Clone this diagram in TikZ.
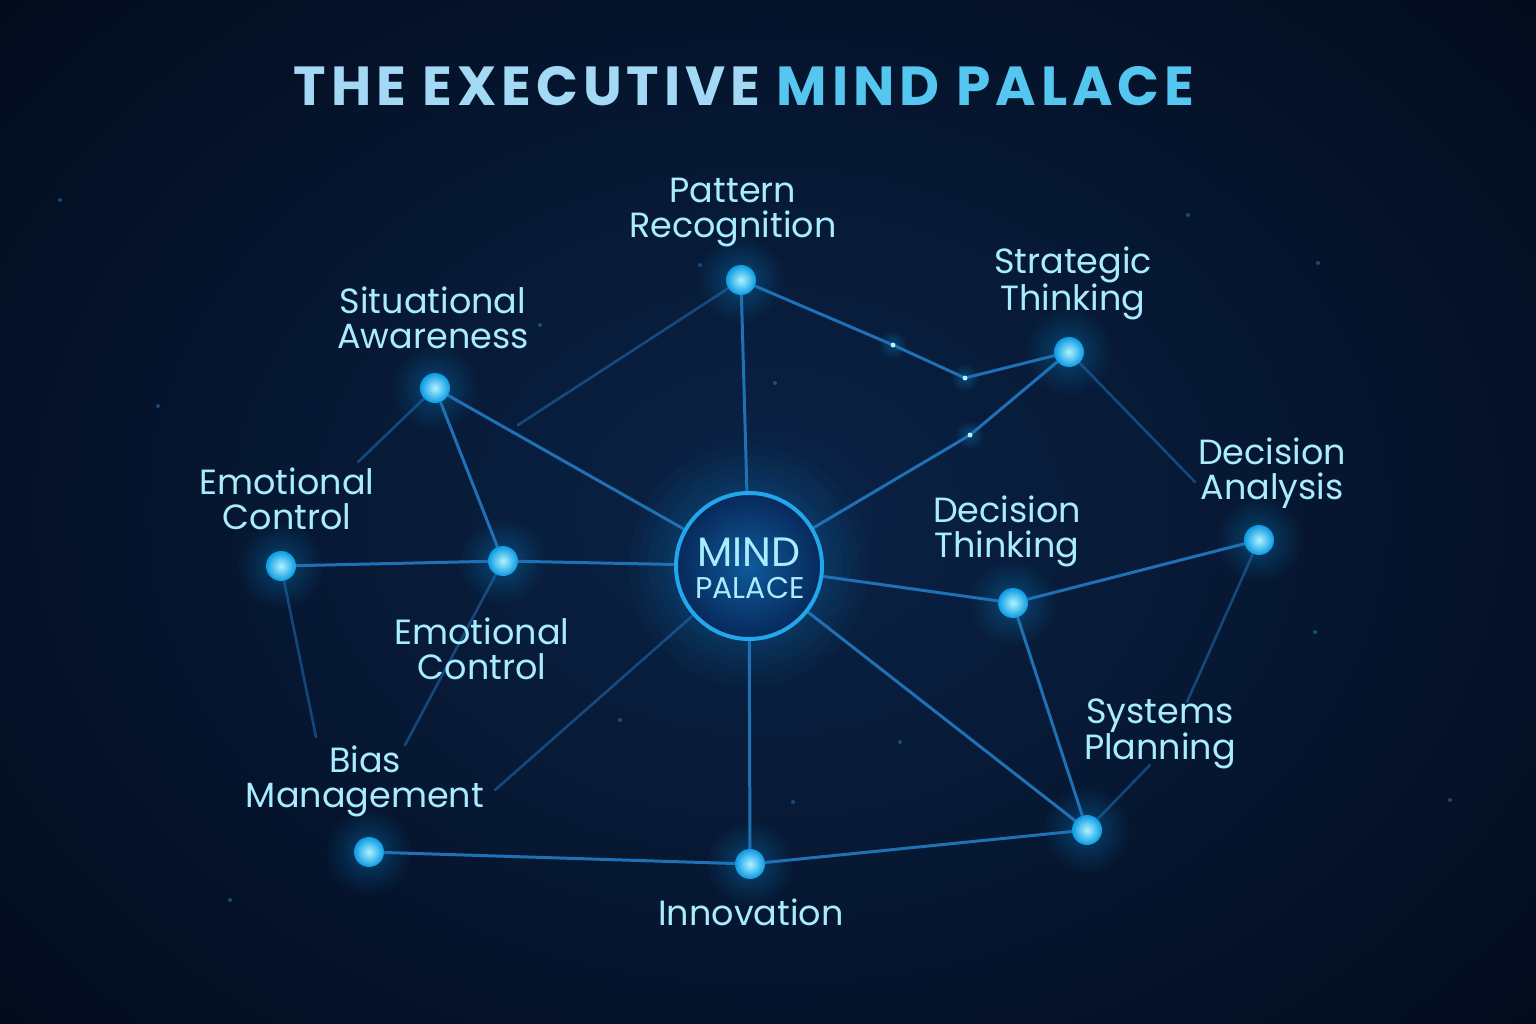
\documentclass[tikz,border=0pt]{standalone}
\usepackage{fontspec}
\setmainfont{Poppins}
\definecolor{bgA}{HTML}{0A2347}
\definecolor{bgB}{HTML}{020A1A}
\definecolor{linec}{HTML}{1F70B5}
\definecolor{dotout}{HTML}{0A9BE4}
\definecolor{dotin}{HTML}{B0F2FF}
\definecolor{labelc}{HTML}{A9ECFF}
\definecolor{titleA}{HTML}{A3D9F4}
\definecolor{titleB}{HTML}{55C6F0}
\definecolor{ringc}{HTML}{22A6EC}
\definecolor{coreA}{HTML}{0F5A9C}
\definecolor{coreB}{HTML}{07295A}
\pgfdeclarelayer{back}\pgfdeclarelayer{glow}\pgfdeclarelayer{lines}
\pgfsetlayers{back,glow,lines,main}
\newcommand\glowat[2]{%
  \begin{pgfonlayer}{glow}
  \foreach \r in {2.8,2.5,2.2,1.95,1.7,1.5,1.3,1.15}{\fill[dotout,opacity=0.035] (#1) circle ({\r*#2});}
  \end{pgfonlayer}}
\begin{document}
\begin{tikzpicture}[x=1pt,y=-1pt,
  conn/.style={draw=linec,line width=3pt,line cap=round},
  faint/.style={draw=linec,line width=2.6pt,opacity=0.55,line cap=round},
  dot/.style={circle,inner sep=0pt,minimum size=30pt,inner color=dotin,outer color=dotout},
  jdot/.style={circle,inner sep=0pt,minimum size=5pt,fill=dotin},
  lbl/.style={text=labelc,font=\fontsize{35}{35}\selectfont,align=center},
  star/.style={fill=linec,opacity=0.6}]
\useasboundingbox (0,0) rectangle (1536,1024);
\begin{pgfonlayer}{back}
\shade[inner color=bgA,outer color=bgB] (-300,-300) rectangle (1836,1324);
\foreach \p in {(158,406),(1318,263),(1315,632),(900,742),(793,802),(540,325),(775,383),(700,265),(1188,215),(60,200),(1450,800),(230,900),(620,720)}
  \fill[star] \p circle (2);
\end{pgfonlayer}
% title
\node[font=\fontsize{55}{60}\bfseries\addfontfeatures{LetterSpace=9}] (title) at (744,86)
  {\textcolor{titleA}{THE EXECUTIVE} \textcolor{titleB}{MIND PALACE}};
% center
\begin{pgfonlayer}{glow}
\foreach \r in {120,110,101,93,86,80}{\fill[dotout,opacity=0.035] (749,566) circle (\r);}
\end{pgfonlayer}
\node[circle,minimum size=146pt,inner sep=0pt,draw=ringc,line width=4pt,inner color=coreA,outer color=coreB] (C) at (749,566) {};
\node[text=labelc,font=\fontsize{41}{42}\selectfont] (mind) at (749,552) {MIND};
\node[text=labelc,font=\fontsize{30}{30}\selectfont] (palace) at (750,588) {PALACE};
% dots
\foreach \n/\x/\y in {PR/741/280,ST/1069/352,SA/435/388,EC/281/566,IN/503/561,DT/1013/603,DA/1259/540,SP/1087/830,INV/750/864,BM/369/852}{
  \glowat{\x,\y}{15}
  \node[dot] (\n) at (\x,\y) {};
}
\foreach \n/\x/\y in {J1/965/378,J2/970/435,J3/893/345}{
  \glowat{\x,\y}{5}
  \node[jdot] (\n) at (\x,\y) {};
}
% fade ends
\coordinate (f1) at (518,425);
\coordinate (f2) at (1195,482);
\coordinate (f3) at (358,462);
\coordinate (f4) at (316,737);
\coordinate (f5) at (405,745);
\coordinate (f6) at (495,790);
\coordinate (f7) at (1187,702);
\coordinate (f8) at (1150,765);
\begin{pgfonlayer}{lines}
\draw[conn] (PR) -- (C);
\draw[conn] (PR) -- (J3) -- (J1) -- (ST);
\draw[conn] (ST) -- (J2) -- (C);
\draw[conn] (SA) -- (C);
\draw[conn] (SA) -- (IN);
\draw[conn] (EC) -- (IN);
\draw[conn] (IN) -- (C);
\draw[conn] (C) -- (INV);
\draw[conn] (C) -- (SP);
\draw[conn] (C) -- (DT);
\draw[conn] (DT) -- (DA);
\draw[conn] (DT) -- (SP);
\draw[conn] (BM) -- (INV);
\draw[conn] (INV) -- (SP);
\draw[faint] (PR) -- (f1);
\draw[faint] (ST) -- (f2);
\draw[faint] (SA) -- (f3);
\draw[faint] (EC) -- (f4);
\draw[faint] (IN) -- (f5);
\draw[faint] (C) -- (f6);
\draw[faint] (DA) -- (f7);
\draw[faint] (SP) -- (f8);
\end{pgfonlayer}
% labels
\node[lbl] (lPR) at (733,213) {Pattern\\Recognition};
\node[lbl] (lST) at (1073,283) {Strategic\\Thinking};
\node[lbl] (lSA) at (433,318) {Situational\\Awareness};
\node[lbl] (lEC) at (287,499) {Emotional\\Control};
\node[lbl] (lIN) at (482,649) {Emotional\\Control};
\node[lbl] (lDT) at (1007,531) {Decision\\Thinking};
\node[lbl] (lDA) at (1272,473) {Decision\\Analysis};
\node[lbl] (lSP) at (1160,734) {Systems\\Planning};
\node[lbl] (lBM) at (365,781) {Bias\\Management};
\node[lbl] (lINV) at (751,912) {Innovation};
\end{tikzpicture}
\end{document}
